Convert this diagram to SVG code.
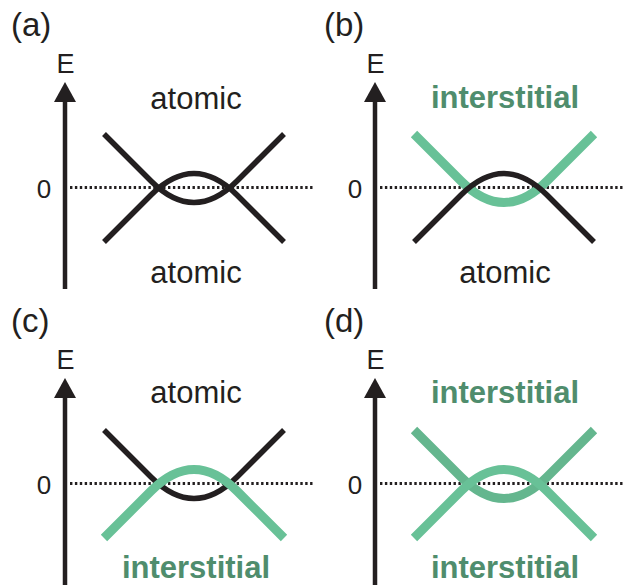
<svg xmlns="http://www.w3.org/2000/svg" width="623" height="585" viewBox="0 0 623 585">
<style>
text{font-family:"Liberation Sans",Arial,Helvetica,sans-serif;fill:#231f20}
.lbl{font-size:33px}
.ax{font-size:27px;text-anchor:middle}
.zero{font-size:26px;text-anchor:middle}
.band{font-size:31px;text-anchor:middle}
.int{font-weight:bold;fill:#4f8d6d}
.axis{stroke:#231f20;stroke-width:4.5;fill:none}
.head{fill:#231f20}
.dot{stroke:#231f20;stroke-width:3;stroke-dasharray:2.4 2.5;fill:none}
.k{stroke:#231f20;stroke-width:5.5;fill:none}
.g{stroke:#68c197;stroke-width:9;fill:none}
.g2{stroke:#64b68e;stroke-width:9;fill:none}
</style>
<defs>
<path id="V" d="M104,134 L151,181 C166,196 180,202.5 194,202.5 C208,202.5 222,196 237,181 L284,134"/>
<path id="A" d="M104,242 L151,195 C166,180 180,173.5 194,173.5 C208,173.5 222,180 237,195 L284,242"/>
</defs>

<g id="panel-a">
  <text class="lbl" x="11" y="36">(a)</text>
  <g id="axis-a">
    <line class="axis" x1="65" y1="100" x2="65" y2="289"/>
    <polygon class="head" points="65,82 54,102 76,102"/>
    <text class="ax" x="65.5" y="73">E</text>
    <text class="zero" x="44" y="198">0</text>
    <line class="dot" x1="70" y1="187.5" x2="313" y2="187.5"/>
  </g>
  <g id="bands-a">
    <use href="#V" class="k"/>
    <use href="#A" class="k"/>
  </g>
  <text class="band" x="196" y="109">atomic</text>
  <text class="band" x="196" y="283">atomic</text>
</g>

<g id="panel-b">
  <text class="lbl" x="324" y="36">(b)</text>
  <g id="axis-b" transform="translate(310,0)">
    <line class="axis" x1="65" y1="100" x2="65" y2="289"/>
    <polygon class="head" points="65,82 54,102 76,102"/>
    <text class="ax" x="65.5" y="73">E</text>
    <text class="zero" x="45" y="198">0</text>
    <line class="dot" x1="70" y1="187.5" x2="313" y2="187.5"/>
  </g>
  <g id="bands-b" transform="translate(310,0)">
    <use href="#V" class="g"/>
    <use href="#A" class="k"/>
  </g>
  <text class="band int" x="505" y="108">interstitial</text>
  <text class="band" x="505" y="283">atomic</text>
</g>

<g id="panel-c">
  <text class="lbl" x="11" y="332">(c)</text>
  <g id="axis-c" transform="translate(0,296)">
    <line class="axis" x1="65" y1="100" x2="65" y2="292"/>
    <polygon class="head" points="65,82 54,102 76,102"/>
    <text class="ax" x="65.5" y="73">E</text>
    <text class="zero" x="44" y="198">0</text>
    <line class="dot" x1="70" y1="187.5" x2="313" y2="187.5"/>
  </g>
  <g id="bands-c" transform="translate(0,296)">
    <use href="#V" class="k"/>
    <use href="#A" class="g"/>
  </g>
  <text class="band" x="196" y="403">atomic</text>
  <text class="band int" x="196" y="578">interstitial</text>
</g>

<g id="panel-d">
  <text class="lbl" x="324" y="332">(d)</text>
  <g id="axis-d" transform="translate(310,296)">
    <line class="axis" x1="65" y1="100" x2="65" y2="292"/>
    <polygon class="head" points="65,82 54,102 76,102"/>
    <text class="ax" x="65.5" y="73">E</text>
    <text class="zero" x="45" y="198">0</text>
    <line class="dot" x1="70" y1="187.5" x2="313" y2="187.5"/>
  </g>
  <g id="bands-d" transform="translate(310,296)">
    <use href="#V" class="g2"/>
    <use href="#A" class="g"/>
  </g>
  <text class="band int" x="505" y="403">interstitial</text>
  <text class="band int" x="505" y="578">interstitial</text>
</g>
</svg>
